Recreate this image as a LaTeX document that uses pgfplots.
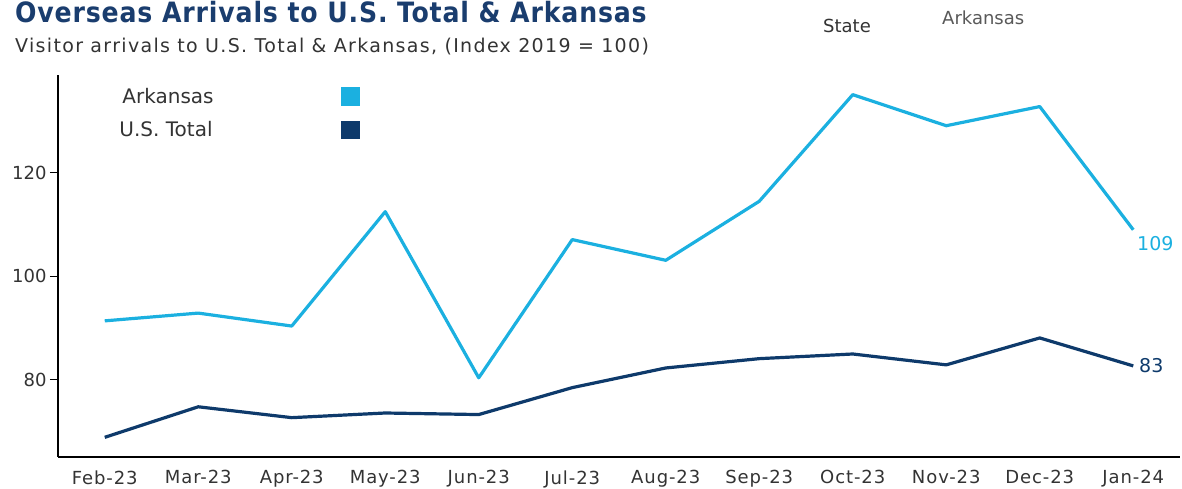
\documentclass[border=0pt]{standalone}
\usepackage{pgfplots}
\pgfplotsset{compat=1.18}
\usepackage{fontspec}
\setmainfont{DejaVu Sans}
\newfontfamily\condfont{DejaVu Sans Condensed}[LetterSpace=3]
\newfontfamily\widefont{DejaVu Sans}[LetterSpace=5]
\newfontfamily\subfont{DejaVu Sans}[LetterSpace=7]
\definecolor{ark}{HTML}{1BB0E0}
\definecolor{ust}{HTML}{0E3A6B}
\definecolor{titlec}{HTML}{1A3D6E}
\definecolor{txt}{HTML}{333333}
\begin{document}
\begin{tikzpicture}[x=1pt,y=1pt]
\useasboundingbox (0,0) rectangle (1182,489);
\begin{axis}[at={(58pt,32pt)}, anchor=south west, scale only axis,
  width=1122pt, height=382pt,
  xmin=-0.5, xmax=11.5, ymin=65.1, ymax=138.9,
  axis x line=bottom, axis y line=left,
  axis line style={-, line width=1.5pt, black},
  xtick={0,...,11},
  xticklabels={Feb-23,Mar-23,Apr-23,May-23,Jun-23,Jul-23,Aug-23,Sep-23,Oct-23,Nov-23,Dec-23,Jan-24},
  x tick style={draw=none},
  ytick={80,100,120},
  y tick style={line width=1.2pt, black},
  tick align=outside, major tick length=8pt,
  /pgf/number format/assume math mode=true,
  ticklabel style={font=\fontsize{18}{20}\selectfont, text=txt},
  xticklabel style={yshift=-2pt, font=\widefont\fontsize{18}{20}\selectfont},
  clip=false]
\addplot[ark, line width=3.2pt, line join=round] coordinates {
(0,91.4) (1,92.9) (2,90.4) (3,112.5) (4,80.4) (5,107.1) (6,103.1) (7,114.5) (8,135.1) (9,129.1) (10,132.8) (11,109)
} node[pos=1, anchor=north west, xshift=-1pt, yshift=-2pt, font=\fontsize{19}{20}\selectfont, text=ark] {109};
\addplot[ust, line width=3.2pt, line join=round] coordinates {
(0,68.9) (1,74.8) (2,72.7) (3,73.6) (4,73.3) (5,78.5) (6,82.3) (7,84.1) (8,85.0) (9,82.9) (10,88.1) (11,82.7)
} node[pos=1, anchor=west, xshift=1pt, font=\fontsize{19}{20}\selectfont, text=ust] {83};
\end{axis}
\node[anchor=base west, font=\condfont\bfseries\fontsize{28}{30}\selectfont, text=titlec, inner sep=0pt] at (15,466) {Overseas Arrivals to U.S. Total \& Arkansas};
\node[anchor=base west, font=\subfont\fontsize{19}{22}\selectfont, text=txt, inner sep=0pt] at (15,436) {Visitor arrivals to U.S. Total \& Arkansas, (Index 2019 = 100)};
\node[anchor=base west, font=\fontsize{18}{20}\selectfont, text=txt, inner sep=0pt] at (823,456) {State};
\node[anchor=base west, font=\fontsize{18}{20}\selectfont, text=black!65, inner sep=0pt] at (942,464) {Arkansas};
\node[font=\fontsize{20}{22}\selectfont, text=txt] at (168,393) {Arkansas};
\node[font=\fontsize{20}{22}\selectfont, text=txt] at (166,360) {U.S. Total};
\fill[ark] (341,383) rectangle (360,402);
\fill[ust] (341,350) rectangle (360,368);
\end{tikzpicture}
\end{document}
